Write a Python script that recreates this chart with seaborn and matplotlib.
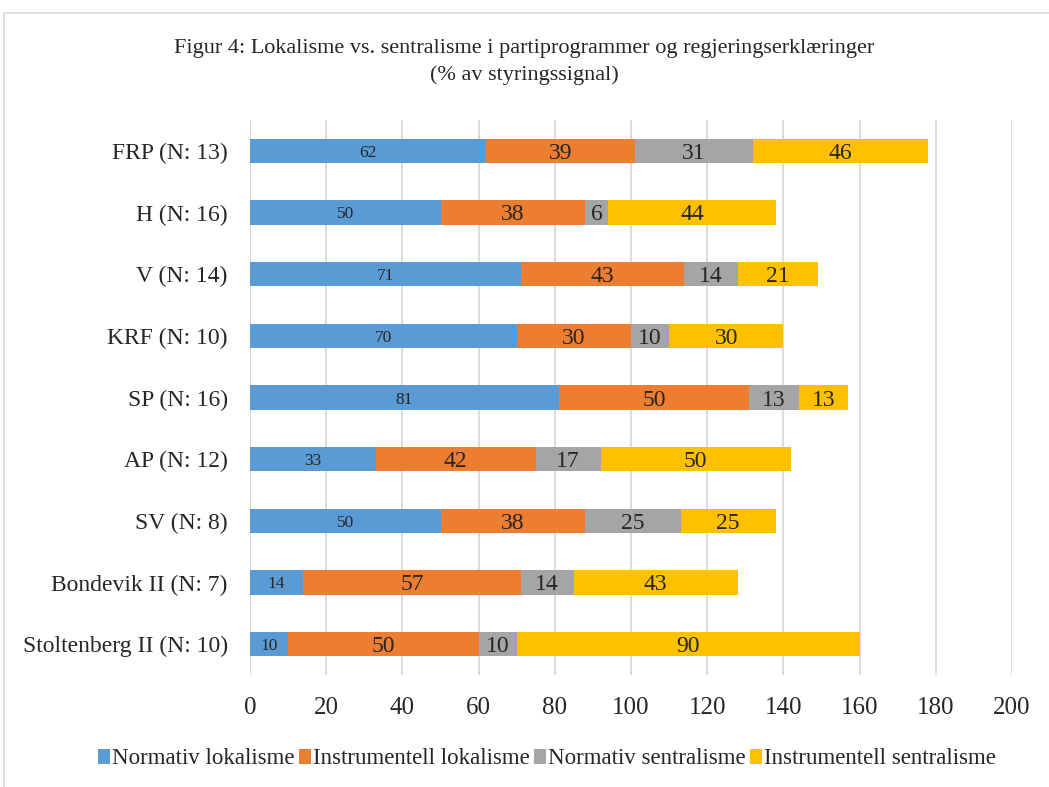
import matplotlib
matplotlib.use("Agg")
import matplotlib.pyplot as plt
import seaborn as sns
import pandas as pd
import numpy as np
from matplotlib.patches import Rectangle, Patch

categories = ["FRP (N: 13)", "H (N: 16)", "V (N: 14)", "KRF (N: 10)", "SP (N: 16)",
              "AP (N: 12)", "SV (N: 8)", "Bondevik II (N: 7)", "Stoltenberg II (N: 10)"]
normativ_lokalisme = [62, 50, 71, 70, 81, 33, 50, 14, 10]
instrumentell_lokalisme = [39, 38, 43, 30, 50, 42, 38, 57, 50]
normativ_sentralisme = [31, 6, 14, 10, 13, 17, 25, 14, 10]
instrumentell_sentralisme = [46, 44, 21, 30, 13, 50, 25, 43, 90]
series_names = ["Normativ lokalisme", "Instrumentell lokalisme",
                "Normativ sentralisme", "Instrumentell sentralisme"]
colors = ["#5B9BD5", "#ED7D31", "#A5A5A5", "#FFC000"]
xticks = [0, 20, 40, 60, 80, 100, 120, 140, 160, 180, 200]

sns.set_theme(style="white")
plt.rcParams['font.family'] = ['Liberation Serif', 'DejaVu Serif']

vals = np.array([normativ_lokalisme, instrumentell_lokalisme,
                 normativ_sentralisme, instrumentell_sentralisme])
cum = np.cumsum(vals, axis=0)

fig = plt.figure(figsize=(10.49, 7.87), dpi=100)
ax = fig.add_axes([250/1049, 1-675/787, (1012-250)/1049, (675-120)/787])

# border of chart area
fig.patches.append(Rectangle((4/1049, -0.05), 1.2, 1-13/787+0.05, transform=fig.transFigure,
                             fill=False, edgecolor="#D9D9D9", linewidth=1.2, zorder=0))

bar_width = 0.39
for i in range(3, -1, -1):
    df = pd.DataFrame({"cat": categories, "val": cum[i]})
    sns.barplot(data=df, x="val", y="cat", orient="h", color=colors[i],
                width=bar_width, ax=ax, saturation=1, linewidth=0, zorder=3)

for i in range(4):
    starts = cum[i] - vals[i]
    for j, cat in enumerate(categories):
        v = vals[i][j]
        fs = 12.5 if i == 0 else 17
        ax.text(starts[j] + v/2, j, str(v), ha="center", va="center_baseline",
                fontsize=fs, color="#262626", zorder=5)

ax.set_xlim(0, 200)
ax.set_ylim(8.5, -0.5)
ax.set_xticks(xticks)
ax.set_xticklabels([str(t) for t in xticks], fontsize=18)
ax.tick_params(axis="y", labelsize=17, length=0, pad=16)
ax.tick_params(axis="x", length=0, pad=16)
ax.set_xlabel("")
ax.set_ylabel("")
ax.xaxis.grid(True, color="#D9D9D9", linewidth=1.3, zorder=0)
ax.set_axisbelow(True)
for s in ax.spines.values():
    s.set_visible(False)
for lbl in ax.get_yticklabels() + ax.get_xticklabels():
    lbl.set_color("#262626")

fig.text(0.5, 1-48/787, "Figur 4: Lokalisme vs. sentralisme i partiprogrammer og regjeringserklæringer",
         ha="center", va="center", fontsize=16, color="#262626")
fig.text(0.5, 1-75/787, "(% av styringssignal)", ha="center", va="center",
         fontsize=16, color="#262626")

handles = [Patch(facecolor=c, edgecolor="none") for c in colors]
fig.legend(handles, series_names, loc="center", bbox_to_anchor=(547/1049, 1-759/787),
           ncol=4, frameon=False, fontsize=16.5, handlelength=0.5, handleheight=0.6,
           handletextpad=0.1, columnspacing=0.2, labelcolor="#262626")

fig.savefig("out.png", dpi=100)
